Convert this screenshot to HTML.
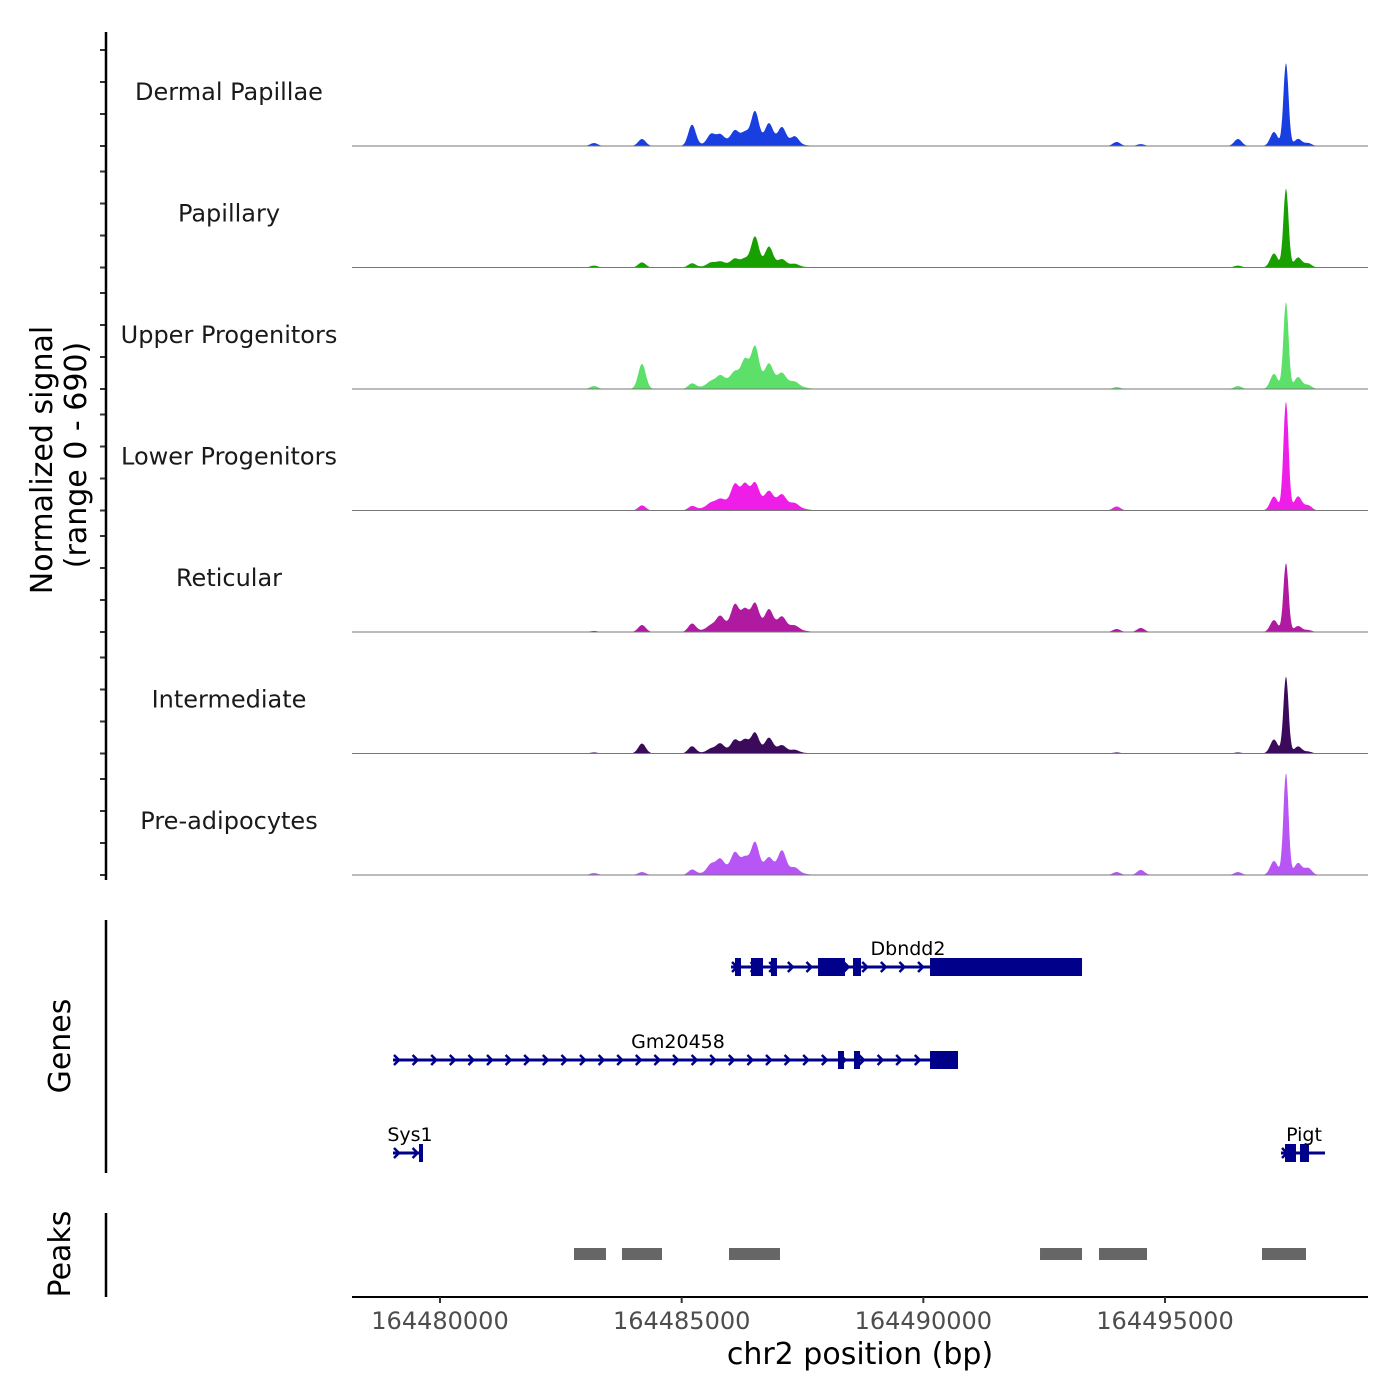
<!DOCTYPE html>
<html><head><meta charset="utf-8"><style>
html,body{margin:0;padding:0;background:#fff;}
svg{display:block;font-family:"DejaVu Sans","Liberation Sans",sans-serif;}
</style></head><body>
<svg id="chart" width="1400" height="1400" viewBox="0 0 1400 1400"></svg>
<script>
// ---- data ----
const regionStart = 164478179, regionEnd = 164499200;
const trackNames = ["Dermal Papillae","Papillary","Upper Progenitors","Lower Progenitors","Reticular","Intermediate","Pre-adipocytes"];
const trackColors = ["#1a3fe0","#18a000","#5ce06a","#ee1ee8","#b01aa0","#3b0a5a","#b855f5"];
const peakPositions = [164483186,164484179,164485214,164485607,164485793,164486103,164486310,164486517,164486807,164487076,164487345,164494000,164494500,164496510,164497255,164497503,164497752,164497960];
const sigDermal   = [17,40,120,51,40,57,46,165,97,80,40,23,11,40,80,473,40,17];
const sigPapillary= [11,29,23,17,17,29,29,154,97,29,11,0,0,11,80,450,57,23];
const sigUpper    = [17,143,29,17,34,46,114,188,91,46,17,11,0,17,86,496,68,23];
const sigLower    = [0,29,23,17,23,97,97,103,57,46,17,23,0,0,80,621,80,29];
const sigReticular= [6,40,46,17,57,114,86,120,86,51,17,17,23,0,68,393,34,11];
const sigInter    = [6,57,40,17,40,57,57,97,68,29,11,6,0,6,80,439,40,11];
const sigPreadipo = [11,17,29,40,57,86,57,143,57,103,23,17,29,17,80,581,68,40];
const broadCenter = 164486455;
const broadValues = [34,23,57,57,46,23,46];
const signalMax = 690;
const xTicks = [164480000,164485000,164490000,164495000];
const geneNames = ["Dbndd2","Gm20458","Sys1","Pigt"];
const geneStarts = [164486021,164479027,164479027,164497400];
const geneEnds   = [164493283,164490717,164479648,164498310];
const geneExons = [
 [[164486103,164486227],[164486434,164486683],[164486848,164486972],[164487821,164488379],[164488545,164488710],[164490138,164493283]],
 [[164488234,164488358],[164488565,164488690],[164490138,164490717]],
 [[164479565,164479648]],
 [[164497483,164497710],[164497793,164497979]]
];
const peakStarts = [164482772,164483765,164485979,164492414,164493634,164497007];
const peakEnds   = [164483434,164484593,164487034,164493283,164494628,164497917];

const signals = [sigDermal,sigPapillary,sigUpper,sigLower,sigReticular,sigInter,sigPreadipo];
// ---- scales ----
const X0=352,X1=1368;
const xs = bp => X0 + (bp-regionStart)/(regionEnd-regionStart)*(X1-X0);
const base0=146, trackStep=121.5, trackH=121;
const NS="http://www.w3.org/2000/svg";
const svg=document.getElementById('chart');
function mk(tag,attrs,parent){const e=document.createElementNS(NS,tag);for(const k in attrs)e.setAttribute(k,attrs[k]);(parent||svg).appendChild(e);return e;}

// tracks
for(let t=0;t<trackNames.length;t++){
  const g=mk('g',{});
  
  
  const base=base0+t*trackStep;
  const vals=signals[t];
  let d='M'+X0+','+base;
  for(let bp=regionStart;bp<=regionEnd;bp+=15){
    let v=broadValues[t]*Math.exp(-Math.pow((bp-broadCenter)/950,4));
    for(let i=0;i<peakPositions.length;i++){
      const w = (i===15)?75:110;
      v+=vals[i]*Math.exp(-Math.pow((bp-peakPositions[i])/w,2));
    }
    v=Math.min(v,signalMax);
    d+=' L'+xs(bp).toFixed(1)+','+(base - v/signalMax*trackH).toFixed(1);
  }
  d+=' L'+X1+','+base+' Z';
  const p=mk('path',{d:d,fill:trackColors[t],stroke:'none'},g);
  
  
  const bl=mk('line',{x1:X0,x2:X1,y1:base,y2:base,stroke:'#777','stroke-width':1},g);
  
  
  const lab=mk('text',{x:229,y:base-46,'text-anchor':'middle','font-size':24,fill:'#1a1a1a'},g);
  lab.textContent=trackNames[t];
  
  
  for(let k=0;k<4;k++){
    const ty=base-k*32;
    const tk=mk('line',{x1:100,x2:106,y1:ty,y2:ty,stroke:'#333','stroke-width':2},g);
    
    
  }
}
// genes
const geneRows=[967,1060,1153,1153];
const geneLabelX=[908,678,410,1304];
for(let i=0;i<geneNames.length;i++){
  const g=mk('g',{});
  
  
  const y=geneRows[i], a=xs(geneStarts[i]), b=xs(geneEnds[i]);
  mk('line',{x1:a,x2:b,y1:y,y2:y,stroke:'#00008b','stroke-width':3},g);
  for(let cx=a+4;cx<b-4;cx+=18.6){
    mk('polyline',{points:(cx-3)+','+(y-5)+' '+(cx+2)+','+y+' '+(cx-3)+','+(y+5),fill:'none',stroke:'#00008b','stroke-width':2.5},g);
  }
  for(const ex of geneExons[i]){
    const r=mk('rect',{x:xs(ex[0]),y:y-9,width:Math.max(xs(ex[1])-xs(ex[0]),4),height:18,fill:'#00008b'},g);
    
    
  }
  const tx=mk('text',{x:geneLabelX[i],y:y-12,'text-anchor':'middle','font-size':19,fill:'#000'},g);
  tx.textContent=geneNames[i];
  
  
}
// peaks
for(let i=0;i<peakStarts.length;i++){
  const r=mk('rect',{x:xs(peakStarts[i]),y:1248,width:xs(peakEnds[i])-xs(peakStarts[i]),height:12,fill:'#666'});
  
  
}
// x axis
const ax=mk('line',{x1:X0,x2:X1,y1:1297,y2:1297,stroke:'#000','stroke-width':2});


for(const v of xTicks){
  const x=xs(v);
  const tk=mk('line',{x1:x,x2:x,y1:1297,y2:1303,stroke:'#333','stroke-width':2});
  
  
  const tl=mk('text',{x:x,y:1329,'text-anchor':'middle','font-size':24,fill:'#4d4d4d'});
  tl.textContent=String(v);
  
  
}
</script>
<script>
(function(){
const NS="http://www.w3.org/2000/svg";const svg=document.getElementById('chart');
function mk(tag,attrs){const e=document.createElementNS(NS,tag);for(const k in attrs)e.setAttribute(k,attrs[k]);svg.appendChild(e);return e;}
let l=mk('line',{x1:106,x2:106,y1:32,y2:880,stroke:'#000','stroke-width':2.5});


l=mk('line',{x1:106,x2:106,y1:920,y2:1173,stroke:'#000','stroke-width':2.5});


l=mk('line',{x1:106,x2:106,y1:1213,y2:1297,stroke:'#000','stroke-width':2.5});


let t=mk('text',{x:0,y:0,'text-anchor':'middle','font-size':30,fill:'#000',transform:'translate(52,460) rotate(-90)'});
t.textContent='Normalized signal';


t=mk('text',{x:0,y:0,'text-anchor':'middle','font-size':30,fill:'#000',transform:'translate(86,455) rotate(-90)'});
t.textContent='(range 0 - 690)';


t=mk('text',{x:0,y:0,'text-anchor':'middle','font-size':30,fill:'#000',transform:'translate(70,1046) rotate(-90)'});
t.textContent='Genes';


t=mk('text',{x:0,y:0,'text-anchor':'middle','font-size':30,fill:'#000',transform:'translate(70,1254) rotate(-90)'});
t.textContent='Peaks';


t=mk('text',{x:860,y:1364,'text-anchor':'middle','font-size':30,fill:'#000'});
t.textContent='chr2 position (bp)';


})();
</script>
</body></html>
